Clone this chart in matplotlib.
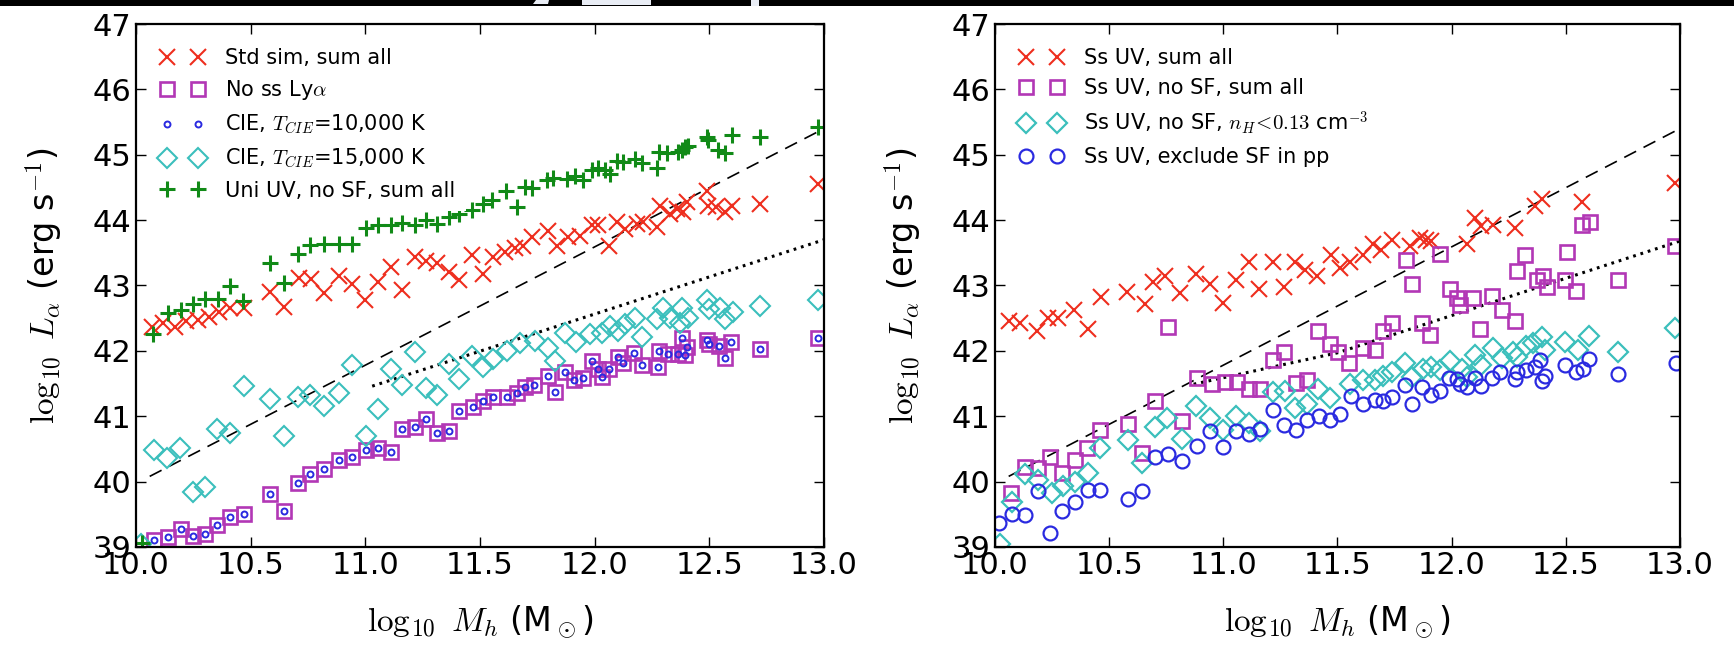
import matplotlib
matplotlib.use("Agg")
import matplotlib.pyplot as plt
from matplotlib.patches import Rectangle, Polygon

plt.rcParams['mathtext.fontset'] = 'cm'
plt.rcParams['font.family'] = ['DejaVu Sans']

# ---------------- data: left panel ----------------
std_x = [10.07, 10.12, 10.17, 10.22, 10.27, 10.32, 10.36, 10.41, 10.47, 10.584, 10.645, 10.71, 10.765,
         10.82, 10.885, 10.943, 11.0, 11.057, 11.113, 11.16, 11.217, 11.265, 11.314, 11.366, 11.41,
         11.466, 11.514, 11.558, 11.609, 11.653, 11.689, 11.726, 11.798, 11.835, 11.885, 11.936, 11.987,
         12.016, 12.064, 12.096, 12.132, 12.183, 12.212, 12.27, 12.285, 12.329, 12.358, 12.387, 12.401,
         12.488, 12.495, 12.531, 12.569, 12.597, 12.721, 12.975]
std_y = [42.37, 42.42, 42.37, 42.46, 42.47, 42.52, 42.60, 42.66, 42.66, 42.90, 42.67, 43.12, 43.10,
         42.88, 43.15, 43.02, 42.78, 43.05, 43.28, 42.93, 43.43, 43.38, 43.35, 43.20, 43.08,
         43.47, 43.17, 43.43, 43.51, 43.58, 43.61, 43.74, 43.84, 43.61, 43.74, 43.76, 43.92,
         43.92, 43.61, 43.97, 43.86, 43.94, 43.97, 43.89, 44.22, 44.09, 44.17, 44.12, 44.27,
         44.45, 44.22, 44.20, 44.12, 44.22, 44.25, 44.56]

noss_x = [10.078, 10.138, 10.195, 10.247, 10.30, 10.353, 10.41, 10.47, 10.586, 10.645, 10.705, 10.76,
          10.82, 10.885, 10.943, 11.003, 11.057, 11.113, 11.16, 11.217, 11.265, 11.314, 11.366, 11.41,
          11.468, 11.512, 11.555, 11.617, 11.663, 11.697, 11.736, 11.795, 11.827, 11.871, 11.911, 11.951,
          11.990, 12.016, 12.033, 12.062, 12.1, 12.125, 12.173, 12.205, 12.275, 12.282, 12.321, 12.365,
          12.381, 12.394, 12.401, 12.491, 12.5, 12.544, 12.569, 12.595, 12.723, 12.975]
noss_y = [39.11, 39.15, 39.28, 39.17, 39.20, 39.33, 39.46, 39.50, 39.81, 39.55, 39.98, 40.12,
          40.19, 40.33, 40.38, 40.48, 40.52, 40.46, 40.80, 40.84, 40.96, 40.75, 40.78, 41.08,
          41.14, 41.24, 41.30, 41.29, 41.36, 41.44, 41.48, 41.62, 41.37, 41.67, 41.55, 41.58,
          41.84, 41.73, 41.60, 41.73, 41.91, 41.82, 41.96, 41.79, 41.76, 42.00, 41.95, 41.95,
          42.19, 41.94, 42.06, 42.16, 42.10, 42.07, 41.89, 42.14, 42.03, 42.19]

cie10_x = list(noss_x)
cie10_y = [39.11, 39.15, 39.28, 39.17, 39.20, 39.33, 39.46, 39.50, 39.81, 39.55, 39.98, 40.12,
           40.19, 40.33, 40.38, 40.48, 40.52, 40.46, 40.80, 40.84, 40.96, 40.75, 40.78, 41.08,
           41.14, 41.24, 41.30, 41.29, 41.36, 41.44, 41.48, 41.62, 41.37, 41.67, 41.55, 41.58,
           41.84, 41.73, 41.60, 41.73, 41.91, 41.82, 41.96, 41.79, 41.76, 42.00, 41.95, 41.95,
           42.19, 41.94, 42.06, 42.16, 42.10, 42.07, 41.89, 42.14, 42.03, 42.19]

cie15_x = [10.02, 10.08, 10.135, 10.19, 10.25, 10.30, 10.355, 10.41, 10.47, 10.586, 10.645, 10.705,
           10.76, 10.82, 10.885, 10.943, 11.003, 11.057, 11.113, 11.16, 11.217, 11.265, 11.314, 11.366,
           11.41, 11.466, 11.514, 11.558, 11.617, 11.675, 11.74, 11.795, 11.827, 11.871, 11.918, 11.98,
           12.03, 12.067, 12.103, 12.132, 12.176, 12.205, 12.27, 12.30, 12.33, 12.372, 12.382, 12.408,
           12.488, 12.50, 12.546, 12.569, 12.605, 12.722, 12.975]
cie15_y = [39.05, 40.49, 40.36, 40.52, 39.84, 39.92, 40.80, 40.75, 41.47, 41.26, 40.70, 41.29,
           41.33, 41.15, 41.36, 41.79, 40.70, 41.11, 41.72, 41.48, 41.99, 41.43, 41.32, 41.80,
           41.57, 41.92, 41.76, 41.88, 42.00, 42.12, 42.15, 42.04, 41.85, 42.27, 42.13, 42.26,
           42.27, 42.38, 42.31, 42.41, 42.50, 42.21, 42.49, 42.66, 42.51, 42.43, 42.66, 42.51,
           42.78, 42.64, 42.66, 42.49, 42.60, 42.68, 42.78]

uni_x = [10.025, 10.076, 10.138, 10.195, 10.247, 10.30, 10.356, 10.41, 10.468, 10.584, 10.645, 10.705,
         10.76, 10.82, 10.885, 10.943, 11.003, 11.057, 11.113, 11.16, 11.217, 11.265, 11.314, 11.366,
         11.41, 11.466, 11.514, 11.551, 11.613, 11.66, 11.697, 11.726, 11.794, 11.82, 11.878, 11.914,
         11.95, 11.987, 12.016, 12.045, 12.067, 12.099, 12.125, 12.176, 12.205, 12.27, 12.282, 12.314,
         12.365, 12.379, 12.394, 12.408, 12.491, 12.495, 12.539, 12.569, 12.597, 12.721, 12.975]
uni_y = [39.06, 42.26, 42.58, 42.63, 42.72, 42.79, 42.80, 42.99, 42.76, 43.35, 43.04, 43.48,
         43.62, 43.63, 43.64, 43.64, 43.88, 43.92, 43.93, 43.96, 43.93, 44.00, 43.94, 44.05,
         44.10, 44.15, 44.25, 44.31, 44.45, 44.20, 44.50, 44.49, 44.61, 44.64, 44.63, 44.68,
         44.61, 44.76, 44.80, 44.76, 44.71, 44.91, 44.89, 44.94, 44.88, 44.79, 45.04, 45.03,
         45.04, 45.07, 45.12, 45.14, 45.27, 45.22, 45.08, 45.02, 45.30, 45.27, 45.42]

# ---------------- data: right panel ----------------
ssuv_x = [10.06, 10.11, 10.183, 10.234, 10.278, 10.344, 10.406, 10.465, 10.577, 10.655, 10.69, 10.743,
          10.811, 10.88, 10.943, 11.0, 11.056, 11.111, 11.158, 11.216, 11.265, 11.316, 11.36, 11.411,
          11.47, 11.511, 11.555, 11.613, 11.657, 11.693, 11.737, 11.818, 11.861, 11.89, 11.912, 12.066,
          12.102, 12.131, 12.182, 12.277, 12.365, 12.394, 12.573, 12.978]
ssuv_y = [42.45, 42.42, 42.31, 42.51, 42.51, 42.62, 42.33, 42.82, 42.90, 42.71, 43.05, 43.14,
          42.88, 43.18, 43.03, 42.73, 43.08, 43.36, 42.95, 43.36, 42.97, 43.36, 43.24, 43.15,
          43.47, 43.27, 43.36, 43.47, 43.63, 43.55, 43.70, 43.60, 43.73, 43.70, 43.68, 43.63,
          44.04, 43.91, 43.93, 43.88, 44.21, 44.32, 44.28, 44.57]

nosf_x = [10.07, 10.13, 10.187, 10.241, 10.295, 10.35, 10.402, 10.46, 10.582, 10.643, 10.702, 10.757,
          10.819, 10.885, 10.95, 11.006, 11.06, 11.111, 11.162, 11.216, 11.265, 11.319, 11.367, 11.415,
          11.469, 11.503, 11.551, 11.613, 11.664, 11.70, 11.741, 11.80, 11.825, 11.869, 11.905, 11.949,
          11.993, 12.022, 12.036, 12.095, 12.124, 12.175, 12.219, 12.277, 12.285, 12.321, 12.372, 12.401,
          12.416, 12.496, 12.504, 12.547, 12.573, 12.605, 12.73, 12.978]
nosf_y = [39.82, 40.22, 40.21, 40.38, 40.13, 40.33, 40.52, 40.79, 40.88, 40.44, 41.23, 42.36,
          40.92, 41.58, 41.49, 41.52, 41.52, 41.41, 41.41, 41.86, 41.99, 41.51, 41.56, 42.30,
          42.10, 41.99, 41.81, 42.04, 42.02, 42.31, 42.43, 43.39, 43.02, 42.43, 42.25, 43.48,
          42.94, 42.81, 42.70, 42.81, 42.34, 42.84, 42.63, 42.45, 43.22, 43.46, 43.09, 43.15,
          42.98, 43.09, 43.51, 42.91, 43.92, 43.97, 43.09, 43.61]

nh_x = [10.02, 10.073, 10.132, 10.187, 10.249, 10.30, 10.35, 10.406, 10.46, 10.582, 10.643, 10.702,
        10.753, 10.819, 10.88, 10.943, 10.997, 11.056, 11.111, 11.162, 11.216, 11.27, 11.316, 11.367,
        11.415, 11.469, 11.555, 11.613, 11.664, 11.70, 11.737, 11.796, 11.825, 11.876, 11.912, 11.949,
        11.993, 12.044, 12.066, 12.102, 12.131, 12.182, 12.219, 12.27, 12.285, 12.328, 12.358, 12.394,
        12.409, 12.496, 12.555, 12.603, 12.73, 12.978]
nh_y = [39.05, 39.69, 40.11, 40.03, 39.82, 39.94, 40.00, 40.13, 40.51, 40.64, 40.28, 40.83,
        40.98, 40.65, 41.15, 40.98, 40.79, 41.01, 40.90, 40.77, 41.37, 41.39, 41.13, 41.19,
        41.41, 41.28, 41.50, 41.55, 41.55, 41.62, 41.68, 41.81, 41.60, 41.73, 41.76, 41.71,
        41.84, 41.73, 41.60, 41.94, 41.78, 42.04, 41.89, 41.99, 41.91, 42.07, 42.12, 42.21,
        42.02, 42.14, 42.02, 42.22, 41.99, 42.35]

excl_x = [10.018, 10.073, 10.132, 10.187, 10.241, 10.295, 10.35, 10.406, 10.46, 10.582, 10.643, 10.702,
          10.757, 10.819, 10.885, 10.943, 10.999, 11.056, 11.111, 11.162, 11.216, 11.265, 11.319, 11.367,
          11.418, 11.467, 11.511, 11.558, 11.613, 11.664, 11.70, 11.737, 11.796, 11.825, 11.869, 11.912,
          11.949, 11.988, 12.022, 12.036, 12.066, 12.102, 12.131, 12.175, 12.212, 12.277, 12.285, 12.328,
          12.365, 12.387, 12.394, 12.409, 12.496, 12.547, 12.577, 12.603, 12.73, 12.985]
excl_y = [39.36, 39.50, 39.49, 39.85, 39.22, 39.55, 39.69, 39.87, 39.87, 39.73, 39.86, 40.38,
          40.42, 40.31, 40.54, 40.78, 40.53, 40.77, 40.73, 40.81, 41.10, 40.87, 40.79, 40.94,
          41.00, 40.94, 41.04, 41.31, 41.19, 41.25, 41.23, 41.30, 41.48, 41.19, 41.45, 41.33,
          41.38, 41.58, 41.57, 41.50, 41.44, 41.59, 41.47, 41.58, 41.68, 41.57, 41.67, 41.70,
          41.76, 41.86, 41.54, 41.62, 41.79, 41.68, 41.72, 41.88, 41.64, 41.81]

# reference lines
dash_x = [10.06, 13.0]
dash_y = [40.08, 45.40]
dotL_x = [11.03, 13.0]
dotL_y = [41.46, 43.70]
dotR_x = [10.87, 11.50, 13.0]
dotR_y = [41.49, 41.97, 43.68]

# tick labels
xticks = [10.0, 10.5, 11.0, 11.5, 12.0, 12.5, 13.0]
xticklabels = ['10.0', '10.5', '11.0', '11.5', '12.0', '12.5', '13.0']
yticks = [39, 40, 41, 42, 43, 44, 45, 46, 47]
yticklabels = ['39', '40', '41', '42', '43', '44', '45', '46', '47']

RED = '#ee2e1e'
MAG = '#b237b5'
CYA = '#3bbfbc'
GRN = '#118a17'
BLU = '#2a2ae0'

fig = plt.figure(figsize=(17.34, 6.47), dpi=100)
axL = fig.add_axes([0.0784, 0.1546, 0.3968, 0.8083])
axR = fig.add_axes([0.5738, 0.1546, 0.3950, 0.8083])

# top black band (cropped title remnant)
fig.add_artist(Rectangle((0, 1 - 6 / 647), 1, 6 / 647, transform=fig.transFigure,
                         facecolor='black', edgecolor='none', zorder=10))
fig.add_artist(Rectangle((582 / 1734, 1 - 5 / 647), 69 / 1734, 5 / 647, transform=fig.transFigure,
                         facecolor='#e9edf5', edgecolor='none', zorder=11))
fig.add_artist(Rectangle((751 / 1734, 1 - 6 / 647), 8 / 1734, 6 / 647, transform=fig.transFigure,
                         facecolor='#e9edf5', edgecolor='none', zorder=11))
fig.add_artist(Polygon([(533 / 1734, 1 - 4 / 647), (548 / 1734, 1 - 4 / 647), (549 / 1734, 1),
                        (536 / 1734, 1)], closed=True, transform=fig.transFigure,
                       facecolor='#e9edf5', edgecolor='none', zorder=11))


def style(ax):
    ax.set_xlim(10.0, 13.0)
    ax.set_ylim(39, 47)
    ax.set_xticks(xticks)
    ax.set_xticklabels(xticklabels)
    ax.set_yticks(yticks)
    ax.set_yticklabels(yticklabels)
    ax.tick_params(direction='in', length=7, width=1.0, top=True, right=True,
                   labelsize=22, pad=3)
    for s in ax.spines.values():
        s.set_linewidth(1.6)
    ax.set_xlabel(r'$\log_{10}\ M_h$ (M$_\odot$)', fontsize=24)
    ax.set_ylabel(r'$\log_{10}\ L_\alpha$ (erg s$^{-1}$)', fontsize=24)
    ax.xaxis.set_label_coords(0.5, -0.108)
    ax.yaxis.set_label_coords(-0.103, 0.5)
    ax.plot(dash_x, dash_y, color='black', lw=1.2, dashes=(8, 5), zorder=1)


def legend(ax):
    leg = ax.legend(loc='upper left', bbox_to_anchor=(0.021, 0.974), borderaxespad=0.0,
                    numpoints=2, fontsize=15, handlelength=2.1, handletextpad=1.0,
                    borderpad=0.5, labelspacing=0.5, frameon=True, fancybox=False)
    fr = leg.get_frame()
    fr.set_facecolor('white')
    fr.set_edgecolor('none')
    fr.set_alpha(1.0)
    return leg


# ---- left panel ----
style(axL)
axL.plot(dotL_x, dotL_y, color='black', lw=2.2, dashes=(0.9, 1.6), zorder=1)
axL.plot(std_x, std_y, ls='none', marker='x', ms=11, mew=1.5, color=RED, label='Std sim, sum all')
axL.plot(noss_x, noss_y, ls='none', marker='s', ms=10.5, mew=1.9, mfc='none', mec=MAG,
         label=r'No ss Ly$\alpha$')
axL.plot(cie10_x, cie10_y, ls='none', marker='o', ms=4.3, mew=1.4, mfc='none', mec=BLU,
         label=r'CIE, $T_{CIE}$=10,000 K')
axL.plot(cie15_x, cie15_y, ls='none', marker='D', ms=10.5, mew=1.5, mfc='none', mec=CYA,
         label=r'CIE, $T_{CIE}$=15,000 K')
axL.plot(uni_x, uni_y, ls='none', marker='+', ms=11, mew=2.2, color=GRN,
         label='Uni UV, no SF, sum all')
legend(axL)

# ---- right panel ----
style(axR)
axR.plot(dotR_x, dotR_y, color='black', lw=2.2, dashes=(0.9, 1.6), zorder=1)
axR.plot(ssuv_x, ssuv_y, ls='none', marker='x', ms=11, mew=1.5, color=RED, label='Ss UV, sum all')
axR.plot(nosf_x, nosf_y, ls='none', marker='s', ms=10.5, mew=1.9, mfc='none', mec=MAG,
         label='Ss UV, no SF, sum all')
axR.plot(nh_x, nh_y, ls='none', marker='D', ms=10, mew=1.6, mfc='none', mec=CYA,
         label=r'Ss UV, no SF, $n_H\!<\!0.13$ cm$^{-3}$')
axR.plot(excl_x, excl_y, ls='none', marker='o', ms=10, mew=1.6, mfc='none', mec=BLU,
         label='Ss UV, exclude SF in pp')
legend(axR)

fig.savefig('out.png', dpi=100)
